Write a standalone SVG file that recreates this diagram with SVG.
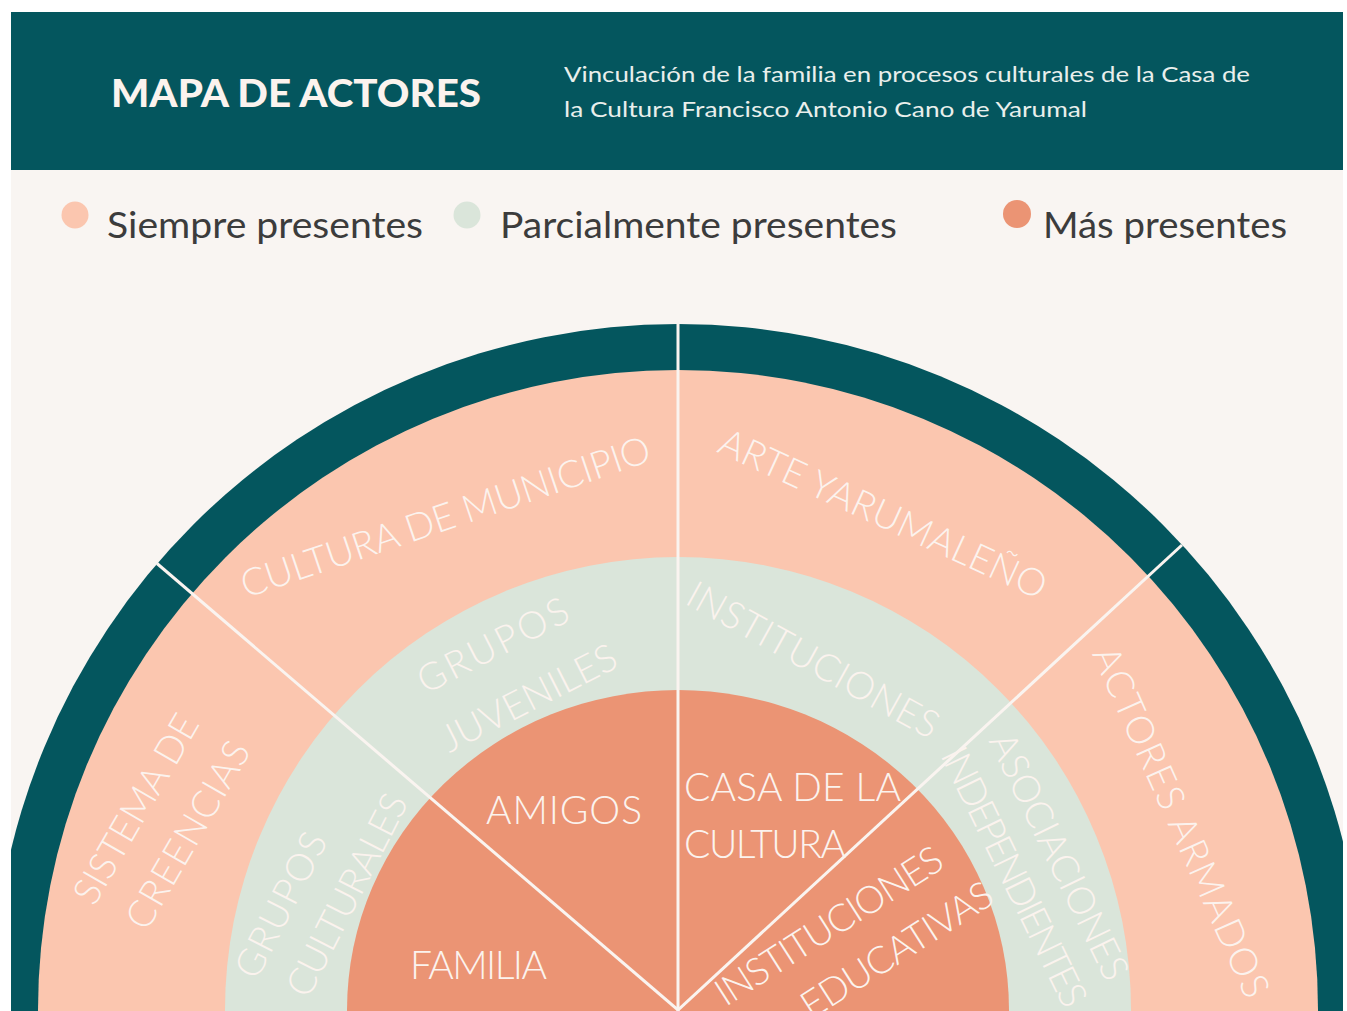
<svg xmlns="http://www.w3.org/2000/svg" width="1347" height="1011" viewBox="0 0 1347 1011">
  <defs>
    <clipPath id="page"><rect x="11" y="170" width="1332" height="841"/></clipPath>
  </defs>
  <style>
    .lbl { font-family: Lato, "Liberation Sans", sans-serif; font-weight: 300; font-size: 38px; fill: #FBF3EE; text-anchor: middle; }
    .lblL { font-family: Lato, "Liberation Sans", sans-serif; font-weight: 300; font-size: 39px; fill: #FBF3EE; }
    .leg { font-family: Lato, "Liberation Sans", sans-serif; font-size: 36px; fill: #3C3C3C; }
    .sub { font-family: Lato, "Liberation Sans", sans-serif; font-size: 22px; fill: #E9EFEC; }
    .div { stroke: #FAF4F0; stroke-width: 3; fill: none; }
  </style>
  <rect x="0" y="0" width="1347" height="1011" fill="#FFFFFF"/>
  <rect x="11" y="12" width="1332" height="999" fill="#F9F5F2"/>

  <g id="header">
    <rect x="11" y="12" width="1332" height="158" fill="#04565E"/>
    <text x="111" y="107" font-family="Lato, 'Liberation Sans', sans-serif" font-weight="900" font-size="37" fill="#FBF3EE" textLength="370" lengthAdjust="spacingAndGlyphs">MAPA DE ACTORES</text>
    <text class="sub" x="564" y="82" textLength="686" lengthAdjust="spacingAndGlyphs">Vinculación de la familia en procesos culturales de la Casa de</text>
    <text class="sub" x="564" y="117" textLength="523" lengthAdjust="spacingAndGlyphs">la Cultura Francisco Antonio Cano de Yarumal</text>
  </g>

  <g id="legend">
    <circle cx="75" cy="215" r="13.5" fill="#FBC6AF"/>
    <text class="leg" x="107" y="238" textLength="316" lengthAdjust="spacingAndGlyphs">Siempre presentes</text>
    <circle cx="467" cy="215" r="13.5" fill="#DAE5DA"/>
    <text class="leg" x="500" y="238" textLength="397" lengthAdjust="spacingAndGlyphs">Parcialmente presentes</text>
    <circle cx="1017" cy="214" r="14" fill="#EB9474"/>
    <text class="leg" x="1043" y="238" textLength="244" lengthAdjust="spacingAndGlyphs">Más presentes</text>
  </g>

  <g id="rings" clip-path="url(#page)">
    <circle cx="678" cy="1010" r="686" fill="#04565E"/>
    <circle cx="678" cy="1010" r="640" fill="#FBC6AF"/>
    <circle cx="678" cy="1010" r="453" fill="#DAE5DA"/>
    <ellipse cx="678" cy="1010" rx="331" ry="320" fill="#EB9474"/>
  </g>

  <g id="connectors" clip-path="url(#page)">
    <line class="div" x1="678" y1="1012" x2="678" y2="324"/>
    <line class="div" x1="678" y1="1010" x2="157" y2="563.5"/>
    <line class="div" x1="678" y1="1010" x2="1182" y2="545"/>
  </g>

  <g id="node-sistema-de-creencias">
    <g transform="translate(136 809) rotate(-60)"><text class="lbl" y="13" textLength="212">SISTEMA DE</text></g>
    <g transform="translate(188 835) rotate(-60)"><text class="lbl" y="13" textLength="210">CREENCIAS</text></g>
  </g>
  <g id="node-cultura-de-municipio">
    <g transform="translate(445.5 517) rotate(-18.7)"><text class="lbl" y="13" textLength="430">CULTURA DE MUNICIPIO</text></g>
  </g>
  <g id="node-arte-yarumaleno">
    <g transform="translate(883 514) rotate(24.7)"><text class="lbl" y="13" textLength="356">ARTE YARUMALEÑO</text></g>
  </g>
  <g id="node-actores-armados">
    <g transform="translate(1181 822) rotate(66)"><text class="lbl" y="13" textLength="380">ACTORES ARMADOS</text></g>
  </g>

  <g id="node-grupos-culturales">
    <g transform="translate(281 905) rotate(-63)"><text class="lbl" y="13" textLength="158">GRUPOS</text></g>
    <g transform="translate(347 895) rotate(-63)"><text class="lbl" y="13" textLength="222">CULTURALES</text></g>
  </g>
  <g id="node-grupos-juveniles">
    <g transform="translate(493 645.5) rotate(-27)"><text class="lbl" y="13" textLength="165">GRUPOS</text></g>
    <g transform="translate(529 698) rotate(-27)"><text class="lbl" y="13" textLength="192">JUVENILES</text></g>
  </g>
  <g id="node-instituciones">
    <g transform="translate(813 660) rotate(29)"><text class="lbl" y="13" textLength="282">INSTITUCIONES</text></g>
  </g>
  <g id="node-asociaciones-independientes">
    <g transform="translate(1059 856.5) rotate(64)"><text class="lbl" y="13" textLength="270">ASOCIACIONES</text></g>
    <g transform="translate(1014 877) rotate(64)"><text class="lbl" y="13" textLength="284">INDEPENDIENTES</text></g>
  </g>

  <g id="node-familia">
    <text class="lblL" x="410" y="979" textLength="137">FAMILIA</text>
  </g>
  <g id="node-amigos">
    <text class="lblL" x="486" y="824" textLength="156">AMIGOS</text>
  </g>
  <g id="node-casa-de-la-cultura">
    <text class="lblL" x="684" y="801" textLength="217">CASA DE LA</text>
    <text class="lblL" x="684" y="858" textLength="162">CULTURA</text>
  </g>
  <g id="node-instituciones-educativas">
    <g transform="translate(829 926) rotate(-32.5)"><text class="lbl" y="13" textLength="262">INSTITUCIONES</text></g>
    <g transform="translate(897 950) rotate(-32.5)"><text class="lbl" y="13" textLength="220">EDUCATIVAS</text></g>
  </g>
</svg>
